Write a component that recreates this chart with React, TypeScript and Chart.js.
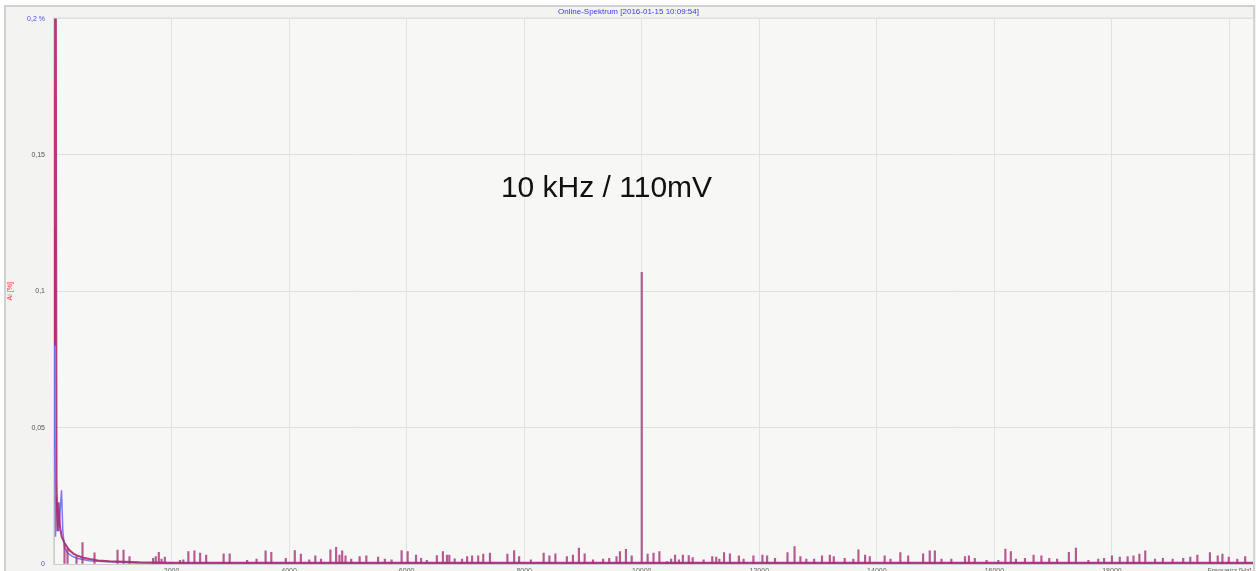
import { useEffect, useRef } from 'react';
import { Chart, registerables } from 'chart.js';

Chart.register(...registerables);

const TITLE = 'Online-Spektrum [2016-01-15 10:09:54]';
const ANNOTATION = '10 kHz / 110mV';
const ANNOTATION_AT = [9400, 0.1376];
const Y_TITLE = 'Ai [%]';

const xTickValues = [2000, 4000, 6000, 8000, 10000, 12000, 14000, 16000, 18000, 20000];
const xTickLabels = ['2000', '4000', '6000', '8000', '10000', '12000', '14000', '16000', '18000', 'Frequenz [Hz]'];
const yTickValues = [0, 0.05, 0.1, 0.15, 0.2];
const yTickLabels = ['0', '0,05', '0,1', '0,15', '0,2 %'];

// low-frequency envelope (red/purple channel)
const purpleFreq = [0, 12, 25, 43, 60, 77, 100, 130, 179, 230, 264, 330, 400, 500, 604, 750, 945, 1200, 1455, 2000, 20400];
const purpleAmp = [0.131, 0.08, 0.3, 0.03, 0.012, 0.0226, 0.014, 0.01, 0.0077, 0.006, 0.005, 0.0038, 0.003, 0.0023, 0.0018, 0.0013, 0.001, 0.0008, 0.0006, 0.0005, 0.0005];

// low-frequency envelope (blue channel)
const blueFreq = [0, 10, 26, 43, 80, 128, 150, 179, 230, 300, 400, 600, 900, 1400, 2000, 20400];
const blueAmp = [0.124, 0.05, 0.01, 0.0245, 0.012, 0.027, 0.012, 0.006, 0.004, 0.003, 0.002, 0.0012, 0.0008, 0.0004, 0.0003, 0.0003];

// spectral lines
const spikeFreq = [
  179, 230, 383, 485, 689, 1081, 1183, 1285,
  1686, 1731, 1783, 1829, 1886, 2143, 2200, 2286, 2389, 2486, 2589, 2886, 2989, 3286, 3446, 3600, 3697, 3943,
  4097, 4200, 4343, 4446, 4543, 4703, 4800, 4857, 4903, 4960, 5057, 5200, 5314, 5514, 5629, 5743, 5914,
  6017, 6160, 6246, 6343, 6514, 6617, 6686, 6726, 6817, 6943, 7029, 7114, 7217, 7303, 7417, 7714, 7829, 7914,
  8114, 8331, 8429, 8531, 8726, 8829, 8931, 9029, 9171, 9343, 9446, 9571, 9629, 9731, 9829, 10000,
  10100, 10200, 10300, 10433, 10500, 10567, 10633, 10700, 10800, 10867, 11053, 11200, 11267, 11320, 11400, 11500,
  11653, 11733, 11900, 12053, 12133, 12267, 12480, 12600, 12700, 12800, 12933, 13067, 13200, 13267, 13453, 13600,
  13687, 13800, 13880, 14133, 14233, 14400, 14533, 14787, 14900, 14987, 15100, 15267, 15500, 15567, 15667, 15867,
  16067, 16187, 16280, 16367, 16520, 16667, 16800, 16933, 17067, 17267, 17387, 17600, 17767, 17867, 18000, 18133,
  18267, 18367, 18467, 18567, 18733, 18867, 19033, 19213, 19333, 19453, 19667, 19800, 19880, 19987, 20133, 20267,
];
const spikeAmp = [
  0.0073, 0.0057, 0.0027, 0.0079, 0.0041, 0.0051, 0.0051, 0.0027,
  0.0021, 0.0027, 0.0043, 0.0018, 0.0025, 0.0013, 0.0015, 0.0046, 0.0048, 0.004, 0.0033, 0.0037, 0.0037, 0.0013, 0.0018, 0.0048, 0.0043, 0.0021,
  0.0049, 0.0036, 0.0015, 0.003, 0.0018, 0.0052, 0.0061, 0.0033, 0.0048, 0.003, 0.0018, 0.0027, 0.003, 0.0025, 0.0018, 0.0015, 0.0049,
  0.0046, 0.0033, 0.0021, 0.0013, 0.0031, 0.0046, 0.0033, 0.0033, 0.0019, 0.0018, 0.0027, 0.003, 0.003, 0.0036, 0.004, 0.0036, 0.0049, 0.0027,
  0.0015, 0.004, 0.003, 0.0037, 0.0027, 0.0033, 0.0058, 0.0037, 0.0015, 0.0018, 0.0021, 0.0027, 0.0046, 0.0054, 0.003, 0.107,
  0.0036, 0.004, 0.0046, 0.0009, 0.0018, 0.0033, 0.0015, 0.0033, 0.0031, 0.0024, 0.0015, 0.0027, 0.0025, 0.0018, 0.0042, 0.0037,
  0.003, 0.0018, 0.003, 0.0033, 0.003, 0.0021, 0.0042, 0.0064, 0.0027, 0.0018, 0.0018, 0.003, 0.0033, 0.0027, 0.0021, 0.0018,
  0.0052, 0.0033, 0.0027, 0.003, 0.0018, 0.0042, 0.003, 0.0037, 0.0048, 0.0048, 0.0018, 0.0018, 0.0027, 0.003, 0.0021, 0.0013,
  0.0013, 0.0055, 0.0046, 0.0018, 0.0021, 0.0033, 0.003, 0.0021, 0.0018, 0.0043, 0.0058, 0.0013, 0.0018, 0.0021, 0.003, 0.0025,
  0.0027, 0.003, 0.0036, 0.0048, 0.0018, 0.0021, 0.0018, 0.0021, 0.0025, 0.0033, 0.0042, 0.003, 0.0036, 0.0025, 0.0018, 0.0027,
];

const X_MIN = 0;
const X_MAX = 20400;
const Y_MAX = 0.2;

const pairs = (xs: number[], ys: number[]) => xs.map((x, i) => ({ x, y: ys[i] }));

const backgroundPlugin = {
  id: 'panelBackground',
  beforeDraw(chart: any) {
    const { ctx, width, height, chartArea } = chart;
    ctx.save();
    ctx.fillStyle = '#ffffff';
    ctx.fillRect(0, 0, width, height);
    ctx.fillStyle = '#f3f3f1';
    ctx.fillRect(4, 5, width - 4, height - 5);
    ctx.strokeStyle = '#d0d0d0';
    ctx.lineWidth = 2;
    ctx.strokeRect(5, 6, width - 7, height);
    ctx.fillStyle = '#f7f7f5';
    ctx.fillRect(chartArea.left, chartArea.top, chartArea.right - chartArea.left, chartArea.bottom - chartArea.top);
    ctx.strokeStyle = '#dadada';
    ctx.lineWidth = 1;
    ctx.strokeRect(chartArea.left - 0.5, chartArea.top - 0.5, chartArea.right - chartArea.left + 1, chartArea.bottom - chartArea.top + 1);
    ctx.restore();
  },
};

const annotationPlugin = {
  id: 'textAnnotation',
  afterDatasetsDraw(chart: any) {
    const { ctx, scales } = chart;
    const px = scales.x.getPixelForValue(ANNOTATION_AT[0]);
    const py = scales.y.getPixelForValue(ANNOTATION_AT[1]);
    ctx.save();
    ctx.font = '30px "Liberation Sans", Arial, sans-serif';
    ctx.fillStyle = '#111111';
    ctx.textAlign = 'center';
    ctx.textBaseline = 'middle';
    ctx.fillText(ANNOTATION, px, py);
    ctx.restore();
  },
};

export default function App() {
  const ref = useRef<HTMLCanvasElement | null>(null);

  useEffect(() => {
    document.body.style.margin = '0';
    if (!ref.current) return;
    const chart = new Chart(ref.current, {
      type: 'line',
      data: {
        datasets: [
          {
            type: 'bar',
            label: 'lines',
            data: pairs(spikeFreq, spikeAmp),
            backgroundColor: 'rgba(165, 50, 120, 0.8)',
            barThickness: 1.5,
            grouped: false,
            order: 1,
          } as any,
          {
            type: 'line',
            label: 'red',
            data: pairs(purpleFreq, purpleAmp),
            borderColor: 'rgba(170, 40, 110, 0.9)',
            borderWidth: 2,
            pointRadius: 0,
            tension: 0,
            order: 2,
          },
          {
            type: 'line',
            label: 'blue',
            data: pairs(blueFreq, blueAmp),
            borderColor: 'rgba(80, 80, 230, 0.75)',
            borderWidth: 1.5,
            pointRadius: 0,
            tension: 0,
            order: 3,
          },
        ],
      },
      options: {
        animation: false,
        responsive: false,
        parsing: true,
        layout: { padding: { left: 4, right: 3, top: 0, bottom: 0 } },
        plugins: {
          legend: { display: false },
          tooltip: { enabled: false },
          title: {
            display: true,
            text: TITLE,
            color: '#3a3aff',
            font: { family: '"Liberation Sans", Arial, sans-serif', size: 8, weight: 'normal' },
            padding: { top: 7, bottom: 2 },
          },
        },
        scales: {
          x: {
            type: 'linear',
            min: X_MIN,
            max: X_MAX,
            offset: false,
            afterBuildTicks: (s: any) => {
              s.ticks = xTickValues.map((v) => ({ value: v }));
            },
            afterFit: (s: any) => {
              s.height = 7;
              s.paddingTop = 0;
              s.paddingBottom = 0;
            },
            ticks: {
              autoSkip: false,
              maxRotation: 0,
              padding: 3,
              color: '#666666',
              font: { family: '"Liberation Sans", Arial, sans-serif', size: 7 },
              callback: (v: any) => {
                const i = xTickValues.indexOf(Number(v));
                return i >= 0 ? xTickLabels[i] : '';
              },
            },
            grid: { color: '#e3e3e3', drawTicks: false, lineWidth: 1, offset: false },
            border: { display: true, color: '#cccccc' },
          },
          y: {
            type: 'linear',
            min: 0,
            max: Y_MAX,
            afterBuildTicks: (s: any) => {
              s.ticks = yTickValues.map((v) => ({ value: v }));
            },
            afterFit: (s: any) => {
              s.width = 50;
              s.paddingTop = 0;
              s.paddingBottom = 0;
            },
            title: {
              display: true,
              text: Y_TITLE,
              color: '#ff4040',
              font: { family: '"Liberation Sans", Arial, sans-serif', size: 7 },
              padding: { top: 2, bottom: 0 },
            },
            ticks: {
              padding: 9,
              color: (c: any) => (c.tick && (c.tick.value === 0 || c.tick.value === Y_MAX) ? '#4a4aff' : '#555555'),
              font: { family: '"Liberation Sans", Arial, sans-serif', size: 7 },
              callback: (v: any) => {
                const i = yTickValues.indexOf(Number(v));
                return i >= 0 ? yTickLabels[i] : '';
              },
            },
            grid: { color: '#e0e0e0', drawTicks: false, lineWidth: 1 },
            border: { display: true, color: '#cccccc' },
          },
        },
      },
      plugins: [backgroundPlugin, annotationPlugin],
    });
    return () => chart.destroy();
  }, []);

  return (
    <div style={{ width: 1256, height: 571 }}>
      <canvas ref={ref} width={1256} height={571} style={{ display: 'block' }} />
    </div>
  );
}
